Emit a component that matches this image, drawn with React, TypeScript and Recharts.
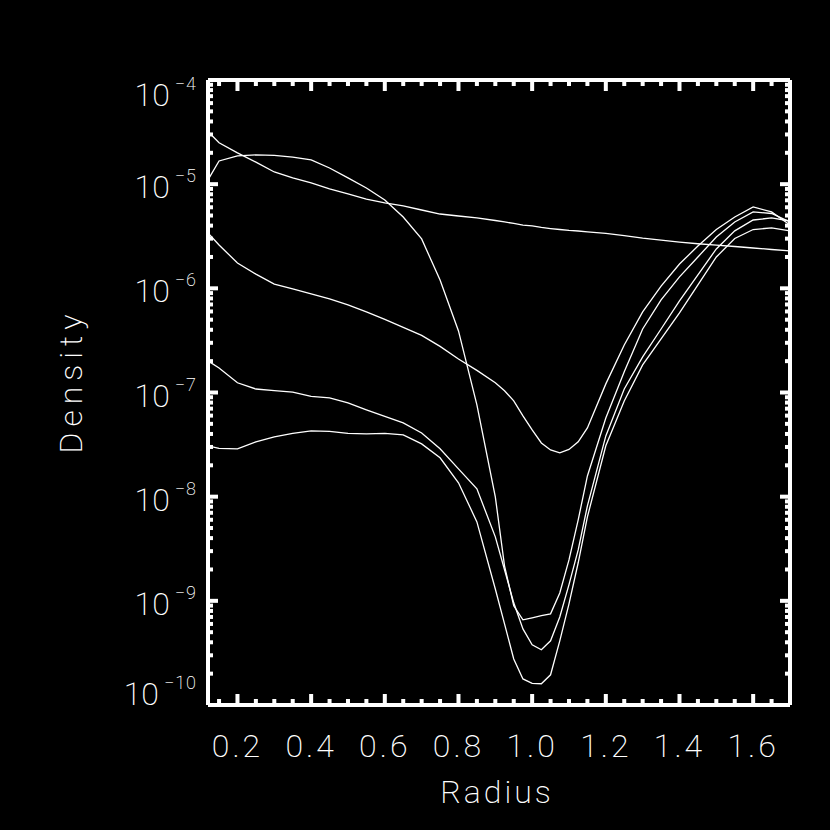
import React from 'react';
import { LineChart, Line, XAxis, YAxis } from 'recharts';

// radius grid shared by all profiles (denser around the dip at r ~ 1)
const radius = [
  0.12, 0.15, 0.2, 0.25, 0.3, 0.35, 0.4, 0.45, 0.5, 0.55, 0.6, 0.65, 0.7, 0.75, 0.8, 0.85, 0.9,
  0.925, 0.95, 0.975, 1.0, 1.025, 1.05, 1.075, 1.1, 1.125, 1.15,
  1.2, 1.25, 1.3, 1.35, 1.4, 1.45, 1.5, 1.55, 1.6, 1.65, 1.7,
];

// slowly falling profile (no dip)
const profileA = [
  3.2e-5, 2.5e-5, 2.0e-5, 1.63e-5, 1.31e-5, 1.15e-5, 1.03e-5, 9.0e-6, 8.05e-6, 7.2e-6, 6.6e-6, 6.2e-6,
  5.65e-6, 5.17e-6, 4.95e-6, 4.74e-6, 4.48e-6,
  4.34e-6, 4.2e-6, 4.05e-6, 3.97e-6, 3.84e-6, 3.75e-6, 3.67e-6, 3.6e-6, 3.55e-6, 3.48e-6,
  3.37e-6, 3.2e-6, 3.03e-6, 2.9e-6, 2.78e-6, 2.68e-6, 2.6e-6, 2.52e-6, 2.44e-6, 2.36e-6, 2.29e-6,
];

// flat at 2e-5, then the steep plunge
const profileB = [
  1.1e-5, 1.67e-5, 1.87e-5, 1.91e-5, 1.89e-5, 1.82e-5, 1.71e-5, 1.43e-5, 1.15e-5, 9.2e-6, 7.05e-6, 4.84e-6,
  2.98e-6, 1.2e-6, 3.9e-7, 7.6e-8, 9.95e-9,
  2.17e-9, 8.95e-10, 6.58e-10, 6.87e-10, 7.2e-10, 7.5e-10, 1.19e-9, 2.47e-9, 5.98e-9, 1.58e-8,
  5.7e-8, 1.58e-7, 4.07e-7, 7.74e-7, 1.29e-6, 2.0e-6, 3.11e-6, 4.34e-6, 5.41e-6, 5.23e-6, 4.34e-6,
];

// shallow dip to ~2.5e-8
const profileC = [
  3.4e-6, 2.61e-6, 1.75e-6, 1.37e-6, 1.1e-6, 9.86e-7, 8.83e-7, 7.91e-7, 6.93e-7, 5.94e-7, 5.03e-7, 4.22e-7,
  3.53e-7, 2.77e-7, 2.1e-7, 1.63e-7, 1.24e-7,
  1.04e-7, 8.3e-8, 5.96e-8, 4.37e-8, 3.28e-8, 2.81e-8, 2.63e-8, 2.84e-8, 3.36e-8, 4.57e-8,
  1.21e-7, 2.86e-7, 5.94e-7, 1.05e-6, 1.71e-6, 2.55e-6, 3.67e-6, 4.84e-6, 6.04e-6, 5.41e-6, 4.06e-6,
];

const profileD = [
  2.01e-7, 1.72e-7, 1.24e-7, 1.08e-7, 1.04e-7, 1.01e-7, 9.16e-8, 8.87e-8, 7.94e-8, 6.81e-8, 5.9e-8, 5.11e-8,
  4.09e-8, 2.88e-8, 1.85e-8, 1.19e-8, 4.11e-9,
  1.99e-9, 9.57e-10, 5.38e-10, 3.79e-10, 3.39e-10, 4.13e-10, 7.0e-10, 1.43e-9, 3.08e-9, 8.17e-9,
  3.83e-8, 1.08e-7, 2.2e-7, 4.07e-7, 7.57e-7, 1.35e-6, 2.39e-6, 3.56e-6, 4.53e-6, 4.74e-6, 4.43e-6,
];

// deepest dip
const profileE = [
  3.08e-8, 2.91e-8, 2.88e-8, 3.36e-8, 3.75e-8, 4.05e-8, 4.28e-8, 4.23e-8, 4.05e-8, 4.01e-8, 4.05e-8, 3.92e-8,
  3.21e-8, 2.36e-8, 1.36e-8, 5.73e-9, 1.3e-9,
  6.01e-10, 2.77e-10, 1.78e-10, 1.61e-10, 1.6e-10, 1.95e-10, 4.13e-10, 9.35e-10, 2.32e-9, 6.4e-9,
  3.08e-8, 8.3e-8, 1.84e-7, 3.27e-7, 5.81e-7, 1.08e-6, 2.0e-6, 3.01e-6, 3.67e-6, 3.8e-6, 3.56e-6,
];

const xMajorTicks = [0.2, 0.4, 0.6, 0.8, 1.0, 1.2, 1.4, 1.6];
const xTickLabels = ['0.2', '0.4', '0.6', '0.8', '1.0', '1.2', '1.4', '1.6'];
const xMinorTicks = [
  0.15, 0.25, 0.3, 0.35, 0.45, 0.5, 0.55, 0.65, 0.7, 0.75, 0.85, 0.9, 0.95,
  1.05, 1.1, 1.15, 1.25, 1.3, 1.35, 1.45, 1.5, 1.55, 1.65,
];
const yMajorTicks = [1e-10, 1e-9, 1e-8, 1e-7, 1e-6, 1e-5, 1e-4];
const yTickExponents = ['−10', '−9', '−8', '−7', '−6', '−5', '−4'];
const yMinorTicks = yMajorTicks.slice(0, -1).flatMap((d) => [2, 3, 4, 5, 6, 7, 8, 9].map((m) => m * d));

const xTicks = [...xMajorTicks, ...xMinorTicks].sort((a, b) => a - b);
const yTicks = [...yMajorTicks, ...yMinorTicks].sort((a, b) => a - b);

const chartData = radius.map((r, i) => ({
  r,
  a: profileA[i],
  b: profileB[i],
  c: profileC[i],
  d: profileD[i],
  e: profileE[i],
}));

const W = 830;
const H = 830;
const PLOT_LEFT = 208;
const PLOT_TOP = 80;
const PLOT_RIGHT = 790;
const PLOT_BOTTOM = 705;
const LEFT_AXIS_W = 100;
const BOTTOM_AXIS_H = 60;
const SIDE_AXIS = 10;

const FONT = "Roboto, 'DejaVu Sans', sans-serif";

// ticks drawn as small filled blocks, pointing into the plot
function BottomTick(props: any) {
  const { x, payload } = props;
  const idx = xMajorTicks.indexOf(payload.value);
  const len = idx >= 0 ? 11 : 6;
  return (
    <g>
      <rect x={x - 2} y={PLOT_BOTTOM - len} width={4} height={len} fill="#fff" />
      {idx >= 0 && (
        <text x={x} y={757} textAnchor="middle" fill="#fff" fontFamily={FONT} fontWeight={200} fontSize={32} letterSpacing={3}>
          {xTickLabels[idx]}
        </text>
      )}
    </g>
  );
}

function TopTick(props: any) {
  const { x, payload } = props;
  const len = xMajorTicks.indexOf(payload.value) >= 0 ? 11 : 6;
  return <rect x={x - 2} y={PLOT_TOP} width={4} height={len} fill="#fff" />;
}

function LeftTick(props: any) {
  const { y, payload } = props;
  const idx = yMajorTicks.indexOf(payload.value);
  const len = idx >= 0 ? 10 : 5;
  // end labels are pulled inside the axis range
  let base = y + 14;
  if (idx === yMajorTicks.length - 1) base = y + 26;
  if (idx === 0) base = y;
  return (
    <g>
      <rect x={PLOT_LEFT} y={y - 2} width={len} height={4} fill="#fff" />
      {idx >= 0 && (
        <text x={197} y={base} textAnchor="end" fill="#fff" fontFamily={FONT} fontWeight={200} fontSize={32}>
          10
          <tspan dx={5} dy={-16} fontSize={18} letterSpacing={1}>
            {yTickExponents[idx]}
          </tspan>
        </text>
      )}
    </g>
  );
}

function RightTick(props: any) {
  const { y, payload } = props;
  const len = yMajorTicks.indexOf(payload.value) >= 0 ? 10 : 5;
  return <rect x={PLOT_RIGHT - len} y={y - 2} width={len} height={4} fill="#fff" />;
}

const axisStroke = { stroke: '#fff', strokeWidth: 4 };

export default function App() {
  const series = ['a', 'b', 'c', 'd', 'e'];
  return (
    <div style={{ position: 'absolute', left: 0, top: 0, width: W, height: H, background: '#000', overflow: 'hidden' }}>
      <LineChart
        width={W}
        height={H}
        data={chartData}
        margin={{
          top: PLOT_TOP - SIDE_AXIS,
          right: W - PLOT_RIGHT - SIDE_AXIS,
          bottom: H - PLOT_BOTTOM - BOTTOM_AXIS_H,
          left: PLOT_LEFT - LEFT_AXIS_W,
        }}
      >
        <XAxis
          xAxisId="bottom"
          dataKey="r"
          type="number"
          domain={[0.12, 1.7]}
          allowDataOverflow
          ticks={xTicks}
          interval={0}
          height={BOTTOM_AXIS_H}
          tickLine={false}
          axisLine={axisStroke}
          tick={(p: any) => <BottomTick {...p} />}
        />
        <XAxis
          xAxisId="top"
          orientation="top"
          dataKey="r"
          type="number"
          domain={[0.12, 1.7]}
          allowDataOverflow
          ticks={xTicks}
          interval={0}
          height={SIDE_AXIS}
          tickLine={false}
          axisLine={axisStroke}
          tick={(p: any) => <TopTick {...p} />}
        />
        <YAxis
          yAxisId="left"
          type="number"
          scale="log"
          domain={[1e-10, 1e-4]}
          allowDataOverflow
          ticks={yTicks}
          interval={0}
          width={LEFT_AXIS_W}
          tickLine={false}
          axisLine={axisStroke}
          tick={(p: any) => <LeftTick {...p} />}
        />
        <YAxis
          yAxisId="right"
          orientation="right"
          type="number"
          scale="log"
          domain={[1e-10, 1e-4]}
          allowDataOverflow
          ticks={yTicks}
          interval={0}
          width={SIDE_AXIS}
          tickLine={false}
          axisLine={axisStroke}
          tick={(p: any) => <RightTick {...p} />}
        />
        {series.map((key) => (
          <Line
            key={key}
            xAxisId="bottom"
            yAxisId="left"
            type="linear"
            dataKey={key}
            stroke="#fff"
            strokeWidth={1.3}
            dot={false}
            activeDot={false}
            isAnimationActive={false}
          />
        ))}
      </LineChart>
      <svg width={W} height={H} style={{ position: 'absolute', left: 0, top: 0, pointerEvents: 'none' }}>
        <text x={497} y={803} textAnchor="middle" fill="#fff" fontFamily={FONT} fontWeight={200} fontSize={32} letterSpacing={3}>
          Radius
        </text>
        <text
          x={0}
          y={0}
          transform="translate(82 381) rotate(-90)"
          textAnchor="middle"
          fill="#fff"
          fontFamily={FONT}
          fontWeight={200}
          fontSize={32}
          letterSpacing={6}
        >
          Density
        </text>
      </svg>
    </div>
  );
}
